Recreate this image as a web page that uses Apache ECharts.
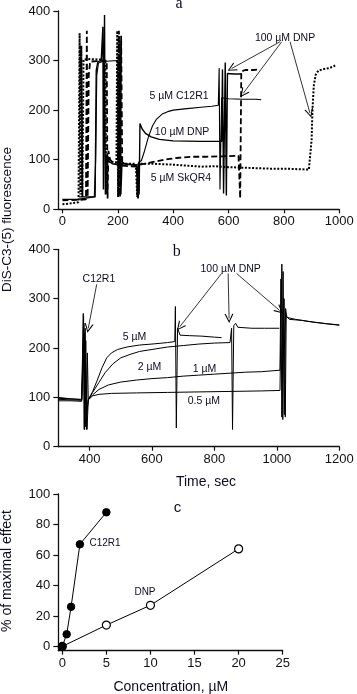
<!DOCTYPE html>
<html><head><meta charset="utf-8">
<script src="https://cdn.jsdelivr.net/npm/echarts@6/dist/echarts.min.js"></script>
<style>html,body{margin:0;padding:0;background:#fff}#c{width:357px;height:694px}</style>
</head><body><div id="c"></div>
<script>
// ---------- Panel a (time traces) ----------
const aC12R1 = [[0,20],[55,20],[60,24],[115,25],[120,100],[124,270],[130,295],[145,298],[200,300],[203,35],[207,300],[210,110],[214,95],[230,92],[268,90],[271,28],[275,95],[285,98],[295,115],[310,145],[325,168],[340,182],[360,192],[380,197],[400,200],[450,203],[500,206],[540,208],[563,210],[566,285],[569,40],[575,225],[600,223],[650,222],[700,222],[718,221]];
const aDNP10 = [[60,25],[118,25],[122,280],[128,298],[140,300],[146,368],[148,40],[152,392],[155,30],[158,110],[165,98],[180,92],[205,90],[208,340],[211,30],[215,92],[270,88],[277,30],[280,173],[288,162],[300,153],[320,146],[350,141],[400,138],[500,137],[575,137],[578,282],[582,32],[588,296],[592,28],[596,274],[620,273],[648,273]];
const aSkQR4 = [[0,18],[60,19],[85,20],[88,360],[91,25],[95,270],[100,298],[160,300],[163,22],[166,118],[172,100],[185,92],[200,90],[204,360],[208,25],[212,350],[216,88],[268,86],[273,22],[277,90],[300,92],[340,97],[380,101],[420,104],[470,106],[520,106],[580,107],[636,108],[639,110],[642,22],[646,278],[660,281],[690,281],[714,282]];
const aDotted = [[0,10],[30,12],[58,14],[62,355],[65,30],[68,330],[72,25],[76,302],[100,303],[140,302],[155,300],[158,30],[162,100],[170,96],[195,95],[198,360],[201,25],[204,350],[207,30],[210,94],[230,92],[265,92],[270,25],[274,92],[320,92],[360,91],[400,90],[450,88],[500,86],[550,87],[600,85],[650,84],[700,83],[750,82],[800,82],[850,81],[890,80],[895,82],[900,140],[903,200],[908,250],[915,272],[925,280],[945,283],[965,285],[985,290]];
const aXTicks = [0,200,400,600,800,1000];
const aLabels = [['100 µM DNP',804,346],['5 µM C12R1',421,229],['10 µM DNP',432,155],['5 µM SkQR4',428,63]];
const aArrows = [[[786,338],[611,284]],[[792,338],[653,234]],[[822,338],[894,194]]];

// ---------- Panel b (time traces) ----------
const b5 = [[300,100],[340,97],[375,95],[380,270],[383,35],[386,240],[390,35],[393,190],[396,95],[410,112],[425,135],[440,160],[455,180],[470,190],[490,197],[520,202],[560,206],[600,208],[650,211],[673,213],[675,284],[678,38],[682,240],[690,226],[720,225],[760,224],[800,222],[823,221]];
const b2 = [[300,93],[340,93],[375,92],[381,265],[384,35],[388,215],[392,35],[396,95],[410,110],[430,130],[450,150],[475,168],[500,180],[530,187],[560,193],[600,197],[650,202],[700,205],[750,208],[800,210],[850,211],[855,240],[858,35],[862,245],[868,250],[875,242],[920,240],[960,240],[1008,240]];
const b1 = [[300,96],[375,94],[382,250],[386,40],[396,95],[410,105],[430,116],[460,125],[500,131],[550,135],[600,138],[650,140],[700,143],[750,145],[800,147],[850,149],[900,151],[950,152],[1010,155],[1013,340],[1016,60],[1020,355],[1024,65],[1028,280],[1032,262],[1060,258],[1100,254],[1150,250],[1200,246]];
const b05 = [[300,98],[375,96],[384,230],[388,50],[396,95],[410,103],[430,106],[470,108],[550,109],[650,110],[750,111],[850,112],[950,113],[1010,114],[1016,370],[1019,55],[1023,300],[1027,60],[1030,265],[1040,258],[1080,256],[1120,252],[1160,249],[1200,247]];
const bXTicks = [400,600,800,1000,1200];
const bLabels = [['100 µM DNP',852,359.6],['C12R1',430,339.6],['5 µM',544,222],['2 µM',592,160.5],['1 µM',768,158],['0.5 µM',766,92.6]];
const bArrows = [[[823,351],[689,243]],[[844,351],[847,260]],[[871,351],[1009,276]],[[423,329],[396,240]]];

// ---------- Panel c (dose response) ----------
const cConcC12R1 = [0,0.5,1,2,5];
const cEffC12R1 = [0,8,26,67,88];
const cConcDNP = [0,5,10,20];
const cEffDNP = [0,14,27,64];
const cXTicks = [0,5,10,15,20,25];
const cYTicks = [0,20,40,60,80,100];
const cLabels = [['C12R1',4.85,68],['DNP',9.38,35.4]];

const abYTicks = [0,100,200,300,400];

const INK = '#111';
const TXT = '#0c0c22';
const SANS = 'Liberation Sans, Arial, sans-serif';
const SERIF = 'Liberation Serif, Times New Roman, serif';

const chart = echarts.init(document.getElementById('c'));
const plain = v => String(v);

function xAxisCfg(gi, min, max, ticks) {
  return {
    type:'value', gridIndex:gi, min:min, max:max,
    axisLine:{show:true, onZero:false, lineStyle:{color:INK, width:1.3}},
    axisTick:{show:true, length:4, lineStyle:{color:INK, width:1.2}, customValues:ticks},
    axisLabel:{color:INK, fontSize:13, fontFamily:SANS, margin:6, customValues:ticks, formatter:plain},
    splitLine:{show:false}
  };
}
function yAxisCfg(gi, min, max, ticks) {
  return {
    type:'value', gridIndex:gi, min:min, max:max,
    axisLine:{show:true, onZero:false, lineStyle:{color:INK, width:1.3}},
    axisTick:{show:true, length:5, lineStyle:{color:INK, width:1.2}, customValues:ticks},
    axisLabel:{color:INK, fontSize:13, fontFamily:SANS, margin:8, customValues:ticks, formatter:plain},
    splitLine:{show:false}
  };
}
function trace(data, gi, style) {
  return {type:'line', xAxisIndex:gi, yAxisIndex:gi, data:data, showSymbol:false, symbol:'none',
    lineStyle:Object.assign({color:'#000', width:1}, style), silent:true, clip:true};
}
function labels(list, gi, size) {
  return {type:'scatter', xAxisIndex:gi, yAxisIndex:gi, symbolSize:0, itemStyle:{color:'#000', opacity:1},
    silent:true, clip:false,
    data:list.map(l=>({name:l[0], value:[l[1], l[2]]})),
    label:{show:true, position:'inside', formatter:p=>p.name, color:TXT, opacity:1, fontSize:size, fontFamily:SANS,
      textBorderWidth:0}};
}
const CHEV = 'path://M5,0 L10,12 L8.6,12 L5,2.8 L1.4,12 L0,12 Z';
function arrows(list, gi) {
  return {type:'lines', coordinateSystem:'cartesian2d', xAxisIndex:gi, yAxisIndex:gi, silent:true,
    symbol:['none', CHEV], symbolSize:[7,9],
    lineStyle:{color:'#000', width:0.8, opacity:1, curveness:0},
    data:list.map(a=>({coords:a}))};
}

const option = {
  animation:false,
  backgroundColor:'#fff',
  grid:[
    {left:58.3, top:11, width:281, height:198.3},
    {left:58.3, top:249.3, width:281, height:197.4},
    {left:58.3, top:494, width:224.4, height:156.7}
  ],
  xAxis:[
    xAxisCfg(0, -15, 1000, aXTicks),
    xAxisCfg(1, 300, 1200, bXTicks),
    xAxisCfg(2, -0.45, 25, cXTicks)
  ],
  yAxis:[
    yAxisCfg(0, 0, 400, abYTicks),
    yAxisCfg(1, 0, 400, abYTicks),
    yAxisCfg(2, -2.8, 100, cYTicks)
  ],
  graphic:[
    {type:'text', x:7, y:219.5, rotation:Math.PI/2,
      style:{text:'DiS-C3-(5) fluorescence', fill:TXT, font:'13.5px '+SANS, align:'center', verticalAlign:'middle'}},
    {type:'text', x:7.5, y:571, rotation:Math.PI/2,
      style:{text:'% of maximal effect', fill:TXT, font:'14px '+SANS, align:'center', verticalAlign:'middle'}},
    {type:'text', x:206, y:481.7,
      style:{text:'Time, sec', fill:TXT, font:'14px '+SANS, align:'center', verticalAlign:'middle'}},
    {type:'text', x:170.8, y:686.7,
      style:{text:'Concentration, µM', fill:TXT, font:'14px '+SANS, align:'center', verticalAlign:'middle'}},
    {type:'text', x:179, y:4.2,
      style:{text:'a', fill:TXT, font:'16px '+SERIF, align:'center', verticalAlign:'middle'}},
    {type:'text', x:176.7, y:252,
      style:{text:'b', fill:TXT, font:'16px '+SERIF, align:'center', verticalAlign:'middle'}},
    {type:'text', x:177.5, y:507.4,
      style:{text:'c', fill:TXT, font:'15px '+SANS, align:'center', verticalAlign:'middle'}}
  ],
  series:[
    trace(aDotted, 0, {width:2, type:[2,1.6]}),
    trace(aSkQR4, 0, {width:1.8, type:[6,3]}),
    trace(aDNP10, 0, {width:1.4}),
    trace(aC12R1, 0, {width:1.1}),
    arrows(aArrows, 0),
    labels(aLabels, 0, 10.5),
    trace(b5, 1, {}),
    trace(b2, 1, {}),
    trace(b1, 1, {}),
    trace(b05, 1, {}),
    arrows(bArrows, 1),
    labels(bLabels, 1, 10.5),
    {type:'line', xAxisIndex:2, yAxisIndex:2, data:cConcDNP.map((x,i)=>[x,cEffDNP[i]]),
      symbol:'circle', symbolSize:8, showSymbol:true, lineStyle:{color:'#000', width:1},
      itemStyle:{color:'#fff', borderColor:'#000', borderWidth:1.2}, silent:true, clip:false},
    {type:'line', xAxisIndex:2, yAxisIndex:2, data:cConcC12R1.map((x,i)=>[x,cEffC12R1[i]]),
      symbol:'circle', symbolSize:7.5, showSymbol:true, lineStyle:{color:'#000', width:1},
      itemStyle:{color:'#000', borderColor:'#000', borderWidth:1}, silent:true, clip:false},
    labels(cLabels, 2, 10)
  ]
};
chart.setOption(option);
</script>
</body></html>
